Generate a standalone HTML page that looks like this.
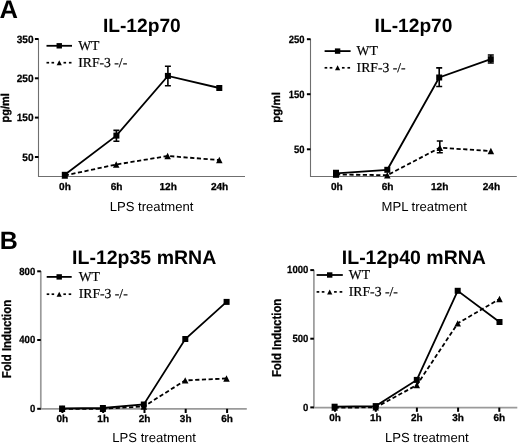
<!DOCTYPE html><html><head><meta charset="utf-8"><style>html,body{margin:0;padding:0;background:#fff;}svg{display:block;will-change:transform;filter:blur(0.3px);}text{text-rendering:geometricPrecision;}</style></head><body>
<svg width="520" height="443" viewBox="0 0 520 443">
<rect width="520" height="443" fill="#fff"/>
<text x="-0.40" y="17.90" font-family='"Liberation Sans", sans-serif' font-size="25.6" font-weight="bold" text-anchor="start" fill="#000">A</text>
<text x="-0.30" y="249.20" font-family='"Liberation Sans", sans-serif' font-size="25" font-weight="bold" text-anchor="start" fill="#000">B</text>
<path d="M38.5 38.5V176.5H245" stroke="#6f6f6f" stroke-width="1.1" fill="none"/>
<path d="M34.90 39.00H38.50" stroke="#000" stroke-width="2" fill="none"/>
<text transform="translate(33.50 42.60) scale(0.96 1)" font-family='"Liberation Sans", sans-serif' font-size="10.5" font-weight="bold" text-anchor="end" fill="#000" stroke="#000" stroke-width="0.25">350</text>
<path d="M34.90 78.30H38.50" stroke="#000" stroke-width="2" fill="none"/>
<text transform="translate(33.50 81.90) scale(0.96 1)" font-family='"Liberation Sans", sans-serif' font-size="10.5" font-weight="bold" text-anchor="end" fill="#000" stroke="#000" stroke-width="0.25">250</text>
<path d="M34.90 117.60H38.50" stroke="#000" stroke-width="2" fill="none"/>
<text transform="translate(33.50 121.20) scale(0.96 1)" font-family='"Liberation Sans", sans-serif' font-size="10.5" font-weight="bold" text-anchor="end" fill="#000" stroke="#000" stroke-width="0.25">150</text>
<path d="M34.90 157.00H38.50" stroke="#000" stroke-width="2" fill="none"/>
<text transform="translate(33.50 160.60) scale(0.96 1)" font-family='"Liberation Sans", sans-serif' font-size="10.5" font-weight="bold" text-anchor="end" fill="#000" stroke="#000" stroke-width="0.25">50</text>
<text x="65.00" y="190.10" font-family='"Liberation Sans", sans-serif' font-size="10.1" font-weight="bold" text-anchor="middle" fill="#000" stroke="#000" stroke-width="0.3">0h</text>
<text x="116.60" y="190.10" font-family='"Liberation Sans", sans-serif' font-size="10.1" font-weight="bold" text-anchor="middle" fill="#000" stroke="#000" stroke-width="0.3">6h</text>
<text x="168.20" y="190.10" font-family='"Liberation Sans", sans-serif' font-size="10.1" font-weight="bold" text-anchor="middle" fill="#000" stroke="#000" stroke-width="0.3">12h</text>
<text x="219.60" y="190.10" font-family='"Liberation Sans", sans-serif' font-size="10.1" font-weight="bold" text-anchor="middle" fill="#000" stroke="#000" stroke-width="0.3">24h</text>
<text x="109.70" y="210.90" font-family='"Liberation Sans", sans-serif' font-size="13.1" font-weight="normal" text-anchor="start" fill="#000">LPS treatment</text>
<text x="0.00" y="0.00" font-family='"Liberation Sans", sans-serif' font-size="11.5" font-weight="bold" text-anchor="middle" fill="#000" transform="translate(8.8 107.85) rotate(-90) scale(0.95 1)" stroke="#000" stroke-width="0.3">pg/ml</text>
<text x="102.90" y="31.60" font-family='"Liberation Sans", sans-serif' font-size="19.2" font-weight="bold" text-anchor="start" fill="#000">IL-12p70</text>
<path d="M46.50 45.80L72.00 45.80" stroke="#000" stroke-width="1.8" fill="none"/>
<rect x="56.55" y="43.10" width="5.4" height="5.4" fill="#000"/>
<path d="M46.50 62.70H49.10" stroke="#000" stroke-width="1.7" fill="none"/>
<path d="M51.50 62.70H54.10" stroke="#000" stroke-width="1.7" fill="none"/>
<path d="M63.50 62.70H66.10" stroke="#000" stroke-width="1.7" fill="none"/>
<path d="M68.90 62.70H71.50" stroke="#000" stroke-width="1.7" fill="none"/>
<path d="M59.25 60.20L61.85 65.20L56.65 65.20Z" fill="#000"/>
<text x="78.20" y="50.40" font-family='"Liberation Serif", serif' font-size="13.7" font-weight="normal" text-anchor="start" fill="#000" stroke="#000" stroke-width="0.2">WT</text>
<text x="78.20" y="66.80" font-family='"Liberation Serif", serif' font-size="13.7" font-weight="normal" text-anchor="start" fill="#000" stroke="#000" stroke-width="0.2">IRF-3 -/-</text>
<path d="M64.80 175.50L116.20 164.50L167.60 156.00L219.30 160.00" stroke="#000" stroke-width="1.8" fill="none" stroke-dasharray="4.2 2.5"/>
<path d="M64.80 172.30L68.05 178.70L61.55 178.70Z" fill="#000"/>
<path d="M116.20 161.30L119.45 167.70L112.95 167.70Z" fill="#000"/>
<path d="M167.60 152.80L170.85 159.20L164.35 159.20Z" fill="#000"/>
<path d="M219.30 156.80L222.55 163.20L216.05 163.20Z" fill="#000"/>
<path d="M64.80 174.80L116.40 135.60L167.90 75.90L219.30 88.00" stroke="#000" stroke-width="1.8" fill="none"/>
<rect x="61.80" y="171.80" width="6" height="6" fill="#000"/>
<path d="M116.40 130.40V141.30M113.40 130.40H119.40M113.40 141.30H119.40" stroke="#000" stroke-width="1.6" fill="none"/>
<rect x="113.40" y="132.60" width="6" height="6" fill="#000"/>
<path d="M167.90 66.30V85.80M164.90 66.30H170.90M164.90 85.80H170.90" stroke="#000" stroke-width="1.6" fill="none"/>
<rect x="164.90" y="72.90" width="6" height="6" fill="#000"/>
<rect x="216.30" y="85.00" width="6" height="6" fill="#000"/>
<path d="M310.5 38.7V176.5H516.8" stroke="#6f6f6f" stroke-width="1.1" fill="none"/>
<path d="M306.90 39.20H310.50" stroke="#000" stroke-width="2" fill="none"/>
<text transform="translate(304.60 42.80) scale(0.9 1)" font-family='"Liberation Sans", sans-serif' font-size="10.5" font-weight="bold" text-anchor="end" fill="#000" stroke="#000" stroke-width="0.25">250</text>
<path d="M306.90 94.20H310.50" stroke="#000" stroke-width="2" fill="none"/>
<text transform="translate(304.60 97.80) scale(0.9 1)" font-family='"Liberation Sans", sans-serif' font-size="10.5" font-weight="bold" text-anchor="end" fill="#000" stroke="#000" stroke-width="0.25">150</text>
<path d="M306.90 149.30H310.50" stroke="#000" stroke-width="2" fill="none"/>
<text transform="translate(304.60 152.90) scale(0.9 1)" font-family='"Liberation Sans", sans-serif' font-size="10.5" font-weight="bold" text-anchor="end" fill="#000" stroke="#000" stroke-width="0.25">50</text>
<text x="336.90" y="190.20" font-family='"Liberation Sans", sans-serif' font-size="10.1" font-weight="bold" text-anchor="middle" fill="#000" stroke="#000" stroke-width="0.3">0h</text>
<text x="387.60" y="190.20" font-family='"Liberation Sans", sans-serif' font-size="10.1" font-weight="bold" text-anchor="middle" fill="#000" stroke="#000" stroke-width="0.3">6h</text>
<text x="439.70" y="190.20" font-family='"Liberation Sans", sans-serif' font-size="10.1" font-weight="bold" text-anchor="middle" fill="#000" stroke="#000" stroke-width="0.3">12h</text>
<text x="491.40" y="190.20" font-family='"Liberation Sans", sans-serif' font-size="10.1" font-weight="bold" text-anchor="middle" fill="#000" stroke="#000" stroke-width="0.3">24h</text>
<text x="381.50" y="210.90" font-family='"Liberation Sans", sans-serif' font-size="13.1" font-weight="normal" text-anchor="start" fill="#000">MPL treatment</text>
<text x="0.00" y="0.00" font-family='"Liberation Sans", sans-serif' font-size="11.5" font-weight="bold" text-anchor="middle" fill="#000" transform="translate(280.1 107.35) rotate(-90) scale(1.0 1)" stroke="#000" stroke-width="0.3">pg/ml</text>
<text x="374.60" y="31.60" font-family='"Liberation Sans", sans-serif' font-size="19.2" font-weight="bold" text-anchor="start" fill="#000">IL-12p70</text>
<path d="M324.60 51.10L350.60 51.10" stroke="#000" stroke-width="1.8" fill="none"/>
<rect x="334.90" y="48.40" width="5.4" height="5.4" fill="#000"/>
<path d="M324.60 67.80H327.25" stroke="#000" stroke-width="1.7" fill="none"/>
<path d="M329.70 67.80H332.35" stroke="#000" stroke-width="1.7" fill="none"/>
<path d="M341.93 67.80H344.58" stroke="#000" stroke-width="1.7" fill="none"/>
<path d="M347.44 67.80H350.09" stroke="#000" stroke-width="1.7" fill="none"/>
<path d="M337.60 65.30L340.20 70.30L335.00 70.30Z" fill="#000"/>
<text x="356.60" y="55.30" font-family='"Liberation Serif", serif' font-size="13.7" font-weight="normal" text-anchor="start" fill="#000" stroke="#000" stroke-width="0.2">WT</text>
<text x="356.60" y="71.70" font-family='"Liberation Serif", serif' font-size="13.7" font-weight="normal" text-anchor="start" fill="#000" stroke="#000" stroke-width="0.2">IRF-3 -/-</text>
<path d="M336.00 174.50L387.30 175.20L439.80 147.70L490.90 151.00" stroke="#000" stroke-width="1.8" fill="none" stroke-dasharray="4.2 2.5"/>
<path d="M336.00 171.30L339.25 177.70L332.75 177.70Z" fill="#000"/>
<path d="M387.30 172.00L390.55 178.40L384.05 178.40Z" fill="#000"/>
<path d="M439.80 141.00V152.80M436.80 141.00H442.80M436.80 152.80H442.80" stroke="#000" stroke-width="1.6" fill="none"/>
<path d="M439.80 144.50L443.05 150.90L436.55 150.90Z" fill="#000"/>
<path d="M490.90 147.80L494.15 154.20L487.65 154.20Z" fill="#000"/>
<path d="M336.00 173.30L387.30 169.80L439.20 77.50L490.80 59.20" stroke="#000" stroke-width="1.8" fill="none"/>
<path d="M336.00 170.50V176.50M333.00 170.50H339.00M333.00 176.50H339.00" stroke="#000" stroke-width="1.6" fill="none"/>
<rect x="333.00" y="170.30" width="6" height="6" fill="#000"/>
<rect x="384.30" y="166.80" width="6" height="6" fill="#000"/>
<path d="M439.20 67.90V86.50M436.20 67.90H442.20M436.20 86.50H442.20" stroke="#000" stroke-width="1.6" fill="none"/>
<rect x="436.20" y="74.50" width="6" height="6" fill="#000"/>
<path d="M490.80 55.00V63.00M487.80 55.00H493.80M487.80 63.00H493.80" stroke="#000" stroke-width="1.6" fill="none"/>
<rect x="487.80" y="56.20" width="6" height="6" fill="#000"/>
<path d="M40.8 271V408.8H246.8" stroke="#9a9a9a" stroke-width="1.7" fill="none"/>
<path d="M37.20 271.30H40.80" stroke="#000" stroke-width="2" fill="none"/>
<text transform="translate(35.20 274.60) scale(0.92 1)" font-family='"Liberation Sans", sans-serif' font-size="10.4" font-weight="bold" text-anchor="end" fill="#000" stroke="#000" stroke-width="0.25">800</text>
<path d="M37.20 340.00H40.80" stroke="#000" stroke-width="2" fill="none"/>
<text transform="translate(35.20 343.30) scale(0.92 1)" font-family='"Liberation Sans", sans-serif' font-size="10.4" font-weight="bold" text-anchor="end" fill="#000" stroke="#000" stroke-width="0.25">400</text>
<path d="M37.20 408.80H40.80" stroke="#000" stroke-width="2" fill="none"/>
<text transform="translate(35.20 412.10) scale(0.92 1)" font-family='"Liberation Sans", sans-serif' font-size="10.4" font-weight="bold" text-anchor="end" fill="#000" stroke="#000" stroke-width="0.25">0</text>
<path d="M62.40 408.80V413.00" stroke="#000" stroke-width="2" fill="none"/>
<text x="62.40" y="421.90" font-family='"Liberation Sans", sans-serif' font-size="10" font-weight="bold" text-anchor="middle" fill="#000" stroke="#000" stroke-width="0.3">0h</text>
<path d="M103.20 408.80V413.00" stroke="#000" stroke-width="2" fill="none"/>
<text x="103.20" y="421.90" font-family='"Liberation Sans", sans-serif' font-size="10" font-weight="bold" text-anchor="middle" fill="#000" stroke="#000" stroke-width="0.3">1h</text>
<path d="M144.50 408.80V413.00" stroke="#000" stroke-width="2" fill="none"/>
<text x="144.50" y="421.90" font-family='"Liberation Sans", sans-serif' font-size="10" font-weight="bold" text-anchor="middle" fill="#000" stroke="#000" stroke-width="0.3">2h</text>
<path d="M185.70 408.80V413.00" stroke="#000" stroke-width="2" fill="none"/>
<text x="185.70" y="421.90" font-family='"Liberation Sans", sans-serif' font-size="10" font-weight="bold" text-anchor="middle" fill="#000" stroke="#000" stroke-width="0.3">3h</text>
<path d="M227.10 408.80V413.00" stroke="#000" stroke-width="2" fill="none"/>
<text x="227.10" y="421.90" font-family='"Liberation Sans", sans-serif' font-size="10" font-weight="bold" text-anchor="middle" fill="#000" stroke="#000" stroke-width="0.3">6h</text>
<text x="112.30" y="442.20" font-family='"Liberation Sans", sans-serif' font-size="13.1" font-weight="normal" text-anchor="start" fill="#000">LPS treatment</text>
<text x="0.00" y="0.00" font-family='"Liberation Sans", sans-serif' font-size="12.9" font-weight="bold" text-anchor="middle" fill="#000" transform="translate(10.8 339.1) rotate(-90) scale(0.883 1)" stroke="#000" stroke-width="0.3">Fold Induction</text>
<text x="72.10" y="263.80" font-family='"Liberation Sans", sans-serif' font-size="19.5" font-weight="bold" text-anchor="start" fill="#000">IL-12p35 mRNA</text>
<path d="M46.70 276.90L71.70 276.90" stroke="#000" stroke-width="1.8" fill="none"/>
<rect x="56.50" y="274.20" width="5.4" height="5.4" fill="#000"/>
<path d="M46.70 294.20H49.25" stroke="#000" stroke-width="1.7" fill="none"/>
<path d="M51.60 294.20H54.15" stroke="#000" stroke-width="1.7" fill="none"/>
<path d="M63.37 294.20H65.92" stroke="#000" stroke-width="1.7" fill="none"/>
<path d="M68.66 294.20H71.21" stroke="#000" stroke-width="1.7" fill="none"/>
<path d="M59.20 291.70L61.80 296.70L56.60 296.70Z" fill="#000"/>
<text x="78.70" y="281.00" font-family='"Liberation Serif", serif' font-size="13.7" font-weight="normal" text-anchor="start" fill="#000" stroke="#000" stroke-width="0.2">WT</text>
<text x="78.70" y="297.80" font-family='"Liberation Serif", serif' font-size="13.7" font-weight="normal" text-anchor="start" fill="#000" stroke="#000" stroke-width="0.2">IRF-3 -/-</text>
<path d="M62.10 408.80L102.90 408.80L143.80 406.50L185.20 380.40L226.50 378.50" stroke="#000" stroke-width="1.8" fill="none" stroke-dasharray="4.2 2.5"/>
<path d="M62.10 405.60L65.35 412.00L58.85 412.00Z" fill="#000"/>
<path d="M102.90 405.60L106.15 412.00L99.65 412.00Z" fill="#000"/>
<path d="M143.80 403.30L147.05 409.70L140.55 409.70Z" fill="#000"/>
<path d="M185.20 377.20L188.45 383.60L181.95 383.60Z" fill="#000"/>
<path d="M226.50 375.30L229.75 381.70L223.25 381.70Z" fill="#000"/>
<path d="M62.10 408.50L102.90 408.00L143.80 404.50L185.30 339.00L226.60 301.90" stroke="#000" stroke-width="1.8" fill="none"/>
<rect x="59.10" y="405.50" width="6" height="6" fill="#000"/>
<rect x="99.90" y="405.00" width="6" height="6" fill="#000"/>
<rect x="140.80" y="401.50" width="6" height="6" fill="#000"/>
<rect x="182.30" y="336.00" width="6" height="6" fill="#000"/>
<rect x="223.60" y="298.90" width="6" height="6" fill="#000"/>
<path d="M313.9 269.8V407.6H517.3" stroke="#9a9a9a" stroke-width="1.7" fill="none"/>
<path d="M310.30 270.10H313.90" stroke="#000" stroke-width="2" fill="none"/>
<text transform="translate(308.40 273.30) scale(0.92 1)" font-family='"Liberation Sans", sans-serif' font-size="10.4" font-weight="bold" text-anchor="end" fill="#000" stroke="#000" stroke-width="0.25">1000</text>
<path d="M310.30 338.70H313.90" stroke="#000" stroke-width="2" fill="none"/>
<text transform="translate(308.40 341.90) scale(0.92 1)" font-family='"Liberation Sans", sans-serif' font-size="10.4" font-weight="bold" text-anchor="end" fill="#000" stroke="#000" stroke-width="0.25">500</text>
<path d="M310.30 407.40H313.90" stroke="#000" stroke-width="2" fill="none"/>
<text transform="translate(308.40 410.60) scale(0.92 1)" font-family='"Liberation Sans", sans-serif' font-size="10.4" font-weight="bold" text-anchor="end" fill="#000" stroke="#000" stroke-width="0.25">0</text>
<path d="M335.00 407.60V411.80" stroke="#000" stroke-width="2" fill="none"/>
<text x="335.00" y="420.90" font-family='"Liberation Sans", sans-serif' font-size="10" font-weight="bold" text-anchor="middle" fill="#000" stroke="#000" stroke-width="0.3">0h</text>
<path d="M375.80 407.60V411.80" stroke="#000" stroke-width="2" fill="none"/>
<text x="375.80" y="420.90" font-family='"Liberation Sans", sans-serif' font-size="10" font-weight="bold" text-anchor="middle" fill="#000" stroke="#000" stroke-width="0.3">1h</text>
<path d="M416.90 407.60V411.80" stroke="#000" stroke-width="2" fill="none"/>
<text x="416.90" y="420.90" font-family='"Liberation Sans", sans-serif' font-size="10" font-weight="bold" text-anchor="middle" fill="#000" stroke="#000" stroke-width="0.3">2h</text>
<path d="M458.10 407.60V411.80" stroke="#000" stroke-width="2" fill="none"/>
<text x="458.10" y="420.90" font-family='"Liberation Sans", sans-serif' font-size="10" font-weight="bold" text-anchor="middle" fill="#000" stroke="#000" stroke-width="0.3">3h</text>
<path d="M499.30 407.60V411.80" stroke="#000" stroke-width="2" fill="none"/>
<text x="499.30" y="420.90" font-family='"Liberation Sans", sans-serif' font-size="10" font-weight="bold" text-anchor="middle" fill="#000" stroke="#000" stroke-width="0.3">6h</text>
<text x="384.90" y="442.20" font-family='"Liberation Sans", sans-serif' font-size="13.1" font-weight="normal" text-anchor="start" fill="#000">LPS treatment</text>
<text x="0.00" y="0.00" font-family='"Liberation Sans", sans-serif' font-size="12.9" font-weight="bold" text-anchor="middle" fill="#000" transform="translate(280.6 337.9) rotate(-90) scale(0.883 1)" stroke="#000" stroke-width="0.3">Fold Induction</text>
<text x="341.80" y="263.70" font-family='"Liberation Sans", sans-serif' font-size="19.5" font-weight="bold" text-anchor="start" fill="#000">IL-12p40 mRNA</text>
<path d="M316.60 275.00L342.80 275.00" stroke="#000" stroke-width="1.8" fill="none"/>
<rect x="327.00" y="272.30" width="5.4" height="5.4" fill="#000"/>
<path d="M316.60 291.90H319.27" stroke="#000" stroke-width="1.7" fill="none"/>
<path d="M321.74 291.90H324.41" stroke="#000" stroke-width="1.7" fill="none"/>
<path d="M334.07 291.90H336.74" stroke="#000" stroke-width="1.7" fill="none"/>
<path d="M339.61 291.90H342.29" stroke="#000" stroke-width="1.7" fill="none"/>
<path d="M329.70 289.40L332.30 294.40L327.10 294.40Z" fill="#000"/>
<text x="348.80" y="279.20" font-family='"Liberation Serif", serif' font-size="13.7" font-weight="normal" text-anchor="start" fill="#000" stroke="#000" stroke-width="0.2">WT</text>
<text x="348.80" y="296.20" font-family='"Liberation Serif", serif' font-size="13.7" font-weight="normal" text-anchor="start" fill="#000" stroke="#000" stroke-width="0.2">IRF-3 -/-</text>
<path d="M334.60 407.60L375.70 407.40L416.80 385.10L457.70 323.40L499.50 299.00" stroke="#000" stroke-width="1.8" fill="none" stroke-dasharray="4.2 2.5"/>
<path d="M334.60 404.40L337.85 410.80L331.35 410.80Z" fill="#000"/>
<path d="M375.70 404.20L378.95 410.60L372.45 410.60Z" fill="#000"/>
<path d="M416.80 381.90L420.05 388.30L413.55 388.30Z" fill="#000"/>
<path d="M457.70 320.20L460.95 326.60L454.45 326.60Z" fill="#000"/>
<path d="M499.50 295.80L502.75 302.20L496.25 302.20Z" fill="#000"/>
<path d="M334.60 406.70L375.70 406.10L416.80 379.90L457.70 290.80L499.50 322.00" stroke="#000" stroke-width="1.8" fill="none"/>
<rect x="331.60" y="403.70" width="6" height="6" fill="#000"/>
<rect x="372.70" y="403.10" width="6" height="6" fill="#000"/>
<rect x="413.80" y="376.90" width="6" height="6" fill="#000"/>
<rect x="454.70" y="287.80" width="6" height="6" fill="#000"/>
<rect x="496.50" y="319.00" width="6" height="6" fill="#000"/>
</svg></body></html>
